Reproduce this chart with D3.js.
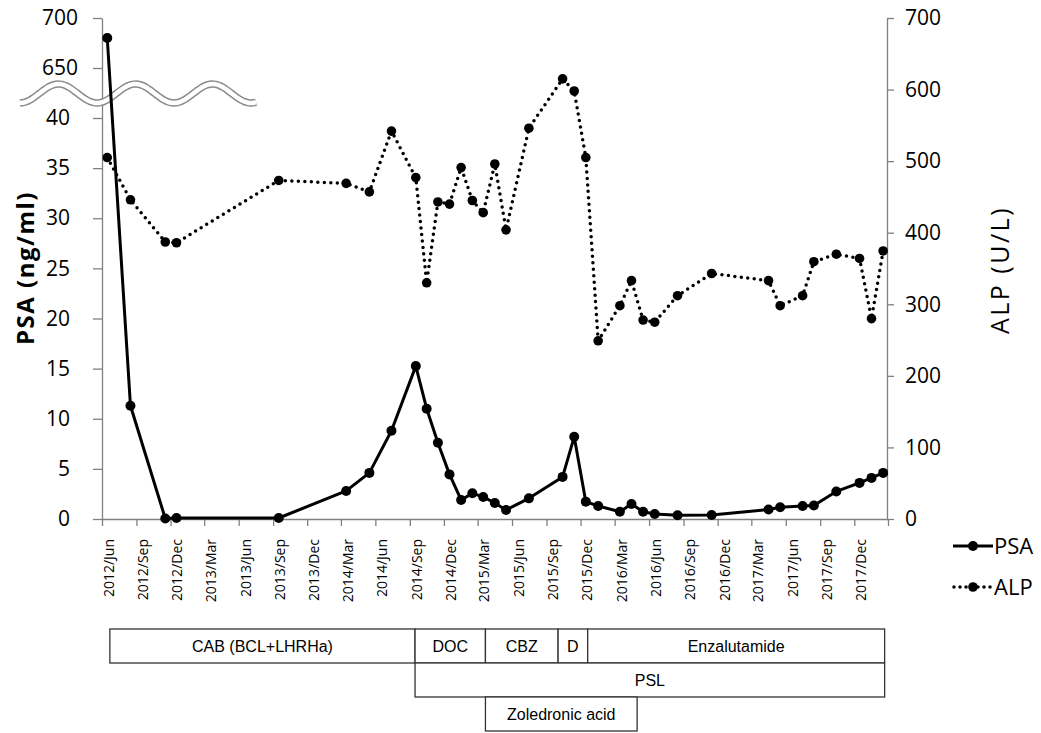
<!DOCTYPE html>
<html>
<head>
<meta charset="utf-8">
<script src="https://cdn.jsdelivr.net/npm/d3@7"></script>
<style>
  body { margin: 0; background: #fff; }
  svg { display: block; }
  .tick text { fill: #000; }
</style>
</head>
<body>
<div id="chart"></div>
<script>
// visit dates (same for both series)
const visitDates = ["2012-06-15", "2012-08-16", "2012-11-17", "2012-12-17", "2013-09-16",
  "2014-03-15", "2014-05-16", "2014-07-14", "2014-09-17", "2014-10-16", "2014-11-15",
  "2014-12-16", "2015-01-16", "2015-02-15", "2015-03-16", "2015-04-16", "2015-05-16",
  "2015-07-16", "2015-10-14", "2015-11-14", "2015-12-15", "2016-01-17", "2016-03-15",
  "2016-04-15", "2016-05-16", "2016-06-16", "2016-08-16", "2016-11-15", "2017-04-16",
  "2017-05-17", "2017-07-16", "2017-08-15", "2017-10-14", "2017-12-15", "2018-01-16",
  "2018-02-16"];

const psaValues = [680, 11.3, 0.05, 0.1, 0.1, 2.8, 4.6, 8.8, 15.25, 11.0, 7.6, 4.45, 1.9,
  2.56, 2.2, 1.6, 0.9, 2.06, 4.2, 8.2, 1.73, 1.3, 0.73, 1.5, 0.73, 0.5, 0.37, 0.4, 0.95,
  1.17, 1.3, 1.35, 2.75, 3.6, 4.1, 4.6];

const alpValues = [505, 446, 387, 386, 473, 469, 457, 542, 477, 330, 443, 440, 491, 445,
  428, 496, 404, 546, 615, 598, 505, 249, 298, 333, 278, 275, 312, 343, 333, 298, 312,
  359.5, 370, 364, 280, 374.5];

const xTickLabels = ["2012/Jun", "2012/Sep", "2012/Dec", "2013/Mar", "2013/Jun", "2013/Sep",
  "2013/Dec", "2014/Mar", "2014/Jun", "2014/Sep", "2014/Dec", "2015/Mar", "2015/Jun",
  "2015/Sep", "2015/Dec", "2016/Mar", "2016/Jun", "2016/Sep", "2016/Dec", "2017/Mar",
  "2017/Jun", "2017/Sep", "2017/Dec"];
const xEnd = "2018/Mar";

const leftTicks = [0, 5, 10, 15, 20, 25, 30, 35, 40, 650, 700];
const rightTicks = [0, 100, 200, 300, 400, 500, 600, 700];

// treatment bars
const treatNames = ["CAB (BCL+LHRHa)", "DOC", "CBZ", "D", "Enzalutamide", "PSL", "Zoledronic acid"];
const treatStart = ["2012-06-22", "2014-09-15", "2015-03-22", "2015-10-02", "2015-12-20", "2014-09-15", "2015-03-22"];
const treatEnd   = ["2014-09-15", "2015-03-22", "2015-10-02", "2015-12-20", "2018-02-20", "2018-02-20", "2016-04-30"];
const treatRow   = [0, 0, 0, 0, 0, 1, 2];

const width = 1041;
const height = 733;
const axisGray = "#808080";
const numFont = "'Open Sans', sans-serif";

const parseDay = d3.timeParse("%Y-%m-%d");
const parseMonth = d3.timeParse("%Y/%b");

const svg = d3.select("#chart")
    .append("svg")
    .attr("width", width)
    .attr("height", height);

const x = d3.scaleTime()
    .domain([parseMonth(xTickLabels[0]), parseMonth(xEnd)])
    .range([102, 888]);

// left scale has a break between 40 and 650
const yL = d3.scaleLinear()
    .domain([0, 40, 650, 700])
    .range([519, 118, 68, 18]);

const yR = d3.scaleLinear()
    .domain([0, 700])
    .range([519, 18]);

// x axis
const xTicks = xTickLabels.concat([xEnd]).map(parseMonth);
const xAxisG = svg.append("g")
    .attr("transform", "translate(0,519)")
    .call(d3.axisBottom(x).tickValues(xTicks).tickSize(7).tickSizeOuter(0).tickFormat(""));
xAxisG.selectAll("path, line").attr("stroke", axisGray).attr("stroke-width", 1.3);

svg.append("g")
    .selectAll("text")
    .data(xTickLabels)
    .join("text")
    .attr("transform", d => `translate(${x(parseMonth(d)) + 7},539) rotate(-90)`)
    .attr("text-anchor", "end")
    .attr("dy", "0.35em")
    .style("font-family", numFont)
    .style("font-size", "14px")
    .text(d => d);

// left axis
const leftG = svg.append("g")
    .attr("transform", "translate(102,0)")
    .call(d3.axisLeft(yL).tickValues(leftTicks).tickSize(9).tickPadding(23).tickSizeOuter(0));
leftG.selectAll("path, line").attr("stroke", axisGray).attr("stroke-width", 1.3);
leftG.selectAll("text")
    .style("font-family", numFont)
    .style("font-size", "21px")
    .attr("x", d => d >= 650 ? -24 : -32);

// right axis
const rightG = svg.append("g")
    .attr("transform", "translate(887,0)")
    .call(d3.axisRight(yR).tickValues(rightTicks).tickSize(7).tickPadding(11).tickSizeOuter(0));
rightG.selectAll("path, line").attr("stroke", axisGray).attr("stroke-width", 1.3);
rightG.selectAll("text")
    .style("font-family", numFont)
    .style("font-size", "21px");

// axis titles
svg.append("text")
    .attr("transform", "translate(26,268) rotate(-90)")
    .attr("text-anchor", "middle")
    .attr("dy", "0.35em")
    .style("font-family", numFont)
    .style("font-weight", "bold")
    .style("font-size", "24px")
    .style("letter-spacing", "1.5px")
    .text("PSA (ng/ml)");

svg.append("text")
    .attr("transform", "translate(1000,270) rotate(-90)")
    .attr("text-anchor", "middle")
    .attr("dy", "0.35em")
    .style("font-family", numFont)
    .style("font-size", "25px")
    .style("letter-spacing", "2.5px")
    .text("ALP (U/L)");

// axis break wave
const wave = d3.range(20, 258, 2).map(px => [px, 93.5 + 9.5 * Math.cos(2 * Math.PI * (px - 20) / 77)]);
const waveLine = d3.line().curve(d3.curveBasis);
svg.append("path").attr("d", waveLine(wave)).attr("fill", "none")
    .attr("stroke", "#8a8a8a").attr("stroke-width", 7.5);
svg.append("path").attr("d", waveLine(wave)).attr("fill", "none")
    .attr("stroke", "#fff").attr("stroke-width", 4.5);

// series
const psaData = visitDates.map((d, i) => ({ date: parseDay(d), v: psaValues[i] }));
const alpData = visitDates.map((d, i) => ({ date: parseDay(d), v: alpValues[i] }));

svg.append("path")
    .datum(alpData)
    .attr("fill", "none")
    .attr("stroke", "#000")
    .attr("stroke-width", 3.5)
    .attr("stroke-linecap", "round")
    .attr("stroke-dasharray", "0 6.5")
    .attr("d", d3.line().x(d => x(d.date)).y(d => yR(d.v)));

svg.append("g")
    .selectAll("circle")
    .data(alpData)
    .join("circle")
    .attr("cx", d => x(d.date))
    .attr("cy", d => yR(d.v))
    .attr("r", 4.8)
    .attr("fill", "#000");

svg.append("path")
    .datum(psaData)
    .attr("fill", "none")
    .attr("stroke", "#000")
    .attr("stroke-width", 3)
    .attr("stroke-linejoin", "round")
    .attr("d", d3.line().x(d => x(d.date)).y(d => yL(d.v)));

svg.append("g")
    .selectAll("circle")
    .data(psaData)
    .join("circle")
    .attr("cx", d => x(d.date))
    .attr("cy", d => yL(d.v))
    .attr("r", 5)
    .attr("fill", "#000");

// legend
const legend = svg.append("g");
legend.append("line").attr("x1", 953).attr("x2", 993).attr("y1", 546).attr("y2", 546)
    .attr("stroke", "#000").attr("stroke-width", 3);
legend.append("circle").attr("cx", 973).attr("cy", 546).attr("r", 5);
legend.append("text").attr("x", 994).attr("y", 546).attr("dy", "0.35em")
    .style("font-family", numFont).style("font-size", "22px").text("PSA");
legend.append("line").attr("x1", 954).attr("x2", 993).attr("y1", 587).attr("y2", 587)
    .attr("stroke", "#000").attr("stroke-width", 3.5)
    .attr("stroke-linecap", "round").attr("stroke-dasharray", "0 6");
legend.append("circle").attr("cx", 973).attr("cy", 587).attr("r", 4.8);
legend.append("text").attr("x", 994).attr("y", 587).attr("dy", "0.35em")
    .style("font-family", numFont).style("font-size", "22px").text("ALP");

// treatment boxes
const rowTop = [629, 663, 697];
const rowH = 34;
const treat = svg.append("g")
    .selectAll("g")
    .data(treatNames.map((n, i) => ({ name: n, s: parseDay(treatStart[i]), e: parseDay(treatEnd[i]), row: treatRow[i] })))
    .join("g");

treat.append("rect")
    .attr("x", d => x(d.s))
    .attr("y", d => rowTop[d.row])
    .attr("width", d => x(d.e) - x(d.s))
    .attr("height", rowH)
    .attr("fill", "#fff")
    .attr("stroke", "#333")
    .attr("stroke-width", 1.3);

treat.append("text")
    .attr("x", d => (x(d.s) + x(d.e)) / 2)
    .attr("y", d => rowTop[d.row] + rowH / 2)
    .attr("text-anchor", "middle")
    .attr("dy", "0.35em")
    .style("font-family", "'Liberation Sans Narrow', 'Liberation Sans', sans-serif")
    .style("font-size", "16px")
    .text(d => d.name);
</script>
</body>
</html>
